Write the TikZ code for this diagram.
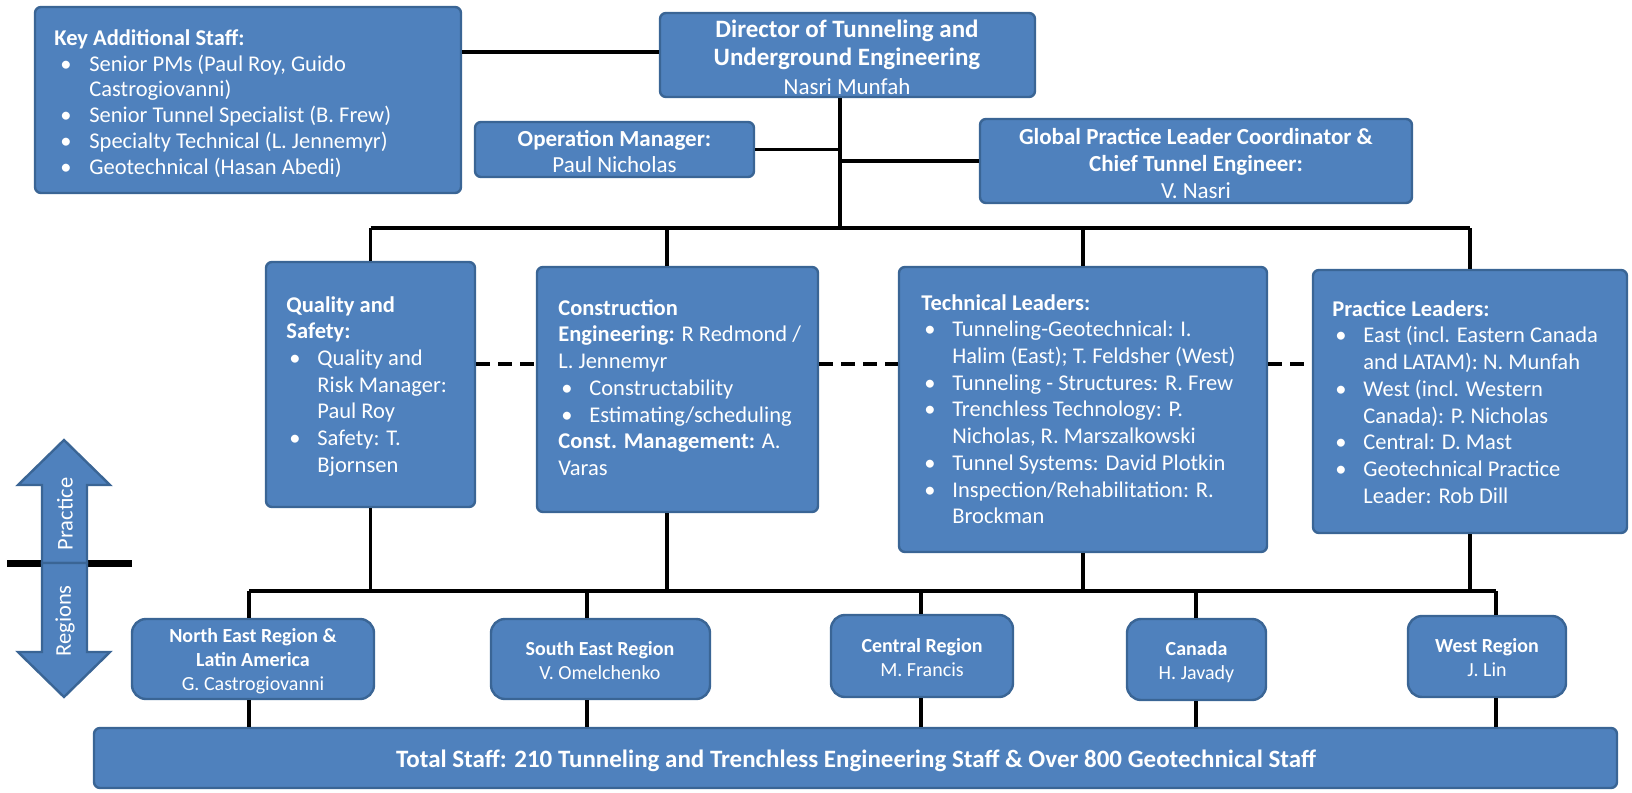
\documentclass[tikz,border=0pt]{standalone}
\usepackage{fontspec}
\setmainfont{Carlito}
\usetikzlibrary{fit}
\definecolor{boxblue}{HTML}{4F81BD}
\definecolor{boxedge}{HTML}{3A6595}
\newlength\bind
\newlength\boff
\newcommand\bitem[1]{\makebox[\bind][l]{\hspace*{\boff}\textbullet}#1}
\newcommand\cont[1]{\hspace*{\bind}#1}
\begin{document}
\begin{tikzpicture}[x=0.5pt,y=-0.5pt,
  box/.style={draw=boxedge, line width=1.2pt, fill=boxblue, rounded corners=3pt, inner sep=0pt},
  rbox/.style={box, rounded corners=7pt},
  ctext/.style={text=white, align=center, inner sep=0pt, anchor=center},
  rtext/.style={ctext, font=\fontsize{10}{12}\selectfont},
  conn/.style={line width=1.8pt, black},
  dashconn/.style={line width=2pt, black, dash pattern=on 7pt off 4pt},
  body/.style={font=\fontsize{11.25}{13.35}\selectfont, text=white, align=left, anchor=north west, inner sep=0pt,
    execute at begin node={\setlength\bind{15.5pt}\setlength\boff{1.5pt}}},
  keybody/.style={body, font=\fontsize{11.25}{12.9}\selectfont,
    execute at begin node={\setlength\bind{17.5pt}\setlength\boff{3pt}}},
  arrowshape/.style={draw=boxedge, line width=1.2pt, fill=boxblue, line join=miter}
]
\path[use as bounding box] (0,0) rectangle (1632,792);

% left double arrow
\draw[line width=3.5pt, black] (7,563) -- (132,563);
\fill[arrowshape] (64,440) -- (110,485) -- (87,485) -- (87,563) -- (42,563) -- (42,485) -- (18,485) -- cycle;
\fill[arrowshape] (42,563) -- (87,563) -- (87,652) -- (110,652) -- (64,697) -- (18,652) -- (42,652) -- cycle;
\node[rotate=90, text=white, font=\fontsize{11.25}{13}\selectfont] (ptxt) at (65,514) {Practice};
\node[rotate=90, text=white, font=\fontsize{11.25}{13}\selectfont] (rtxt) at (65,621) {Regions};

% top level boxes
\node[box, fit={(35,7) (461,193)}] (key) {};
\node[keybody] (keyt) at (54,29) {\textbf{Key Additional Staff:}\\
  \bitem{Senior PMs (Paul Roy, Guido}\\
  \cont{Castrogiovanni)}\\
  \bitem{Senior Tunnel Specialist (B. Frew)}\\
  \bitem{Specialty Technical (L. Jennemyr)}\\
  \bitem{Geotechnical (Hasan Abedi)}};

\node[box, fit={(660,13) (1035,97)}] (dir) {};
\node[ctext, font=\fontsize{12.5}{14.25}\selectfont] (dirt) at (847,57)
  {\textbf{Director of Tunneling and}\\ \textbf{Underground Engineering}\\ {\fontsize{11.5}{14.25}\selectfont Nasri Munfah}};
\node[box, fit={(475,122) (754,177)}] (om) {};
\node[ctext, font=\fontsize{11.5}{13}\selectfont] (omt) at (614.5,151)
  {\textbf{Operation Manager:}\\ Paul Nicholas};
\node[box, fit={(980,119) (1412,203)}] (gp) {};
\node[ctext, font=\fontsize{11.5}{13.5}\selectfont] (gpt) at (1196,164)
  {\textbf{Global Practice Leader Coordinator \&}\\ \textbf{Chief Tunnel Engineer:}\\ V. Nasri};

% second level
\node[box, fit={(266,262) (475,507)}] (qs) {};
\node[body] (qst) at (286,296) {\textbf{Quality and}\\
  \textbf{Safety:}\\
  \bitem{Quality and}\\
  \cont{Risk Manager:}\\
  \cont{Paul Roy}\\
  \bitem{Safety: T.}\\
  \cont{Bjornsen}};

\node[box, fit={(537,267) (818,512)}] (cons) {};
\node[body] (const) at (558,299) {\textbf{Construction}\\
  \textbf{Engineering:} R Redmond /\\
  L. Jennemyr\\
  \bitem{Constructability}\\
  \bitem{Estimating/scheduling}\\
  \textbf{Const. Management:} A.\\
  Varas};

\node[box, fit={(899,267) (1267,552)}] (tl) {};
\node[body] (tlt) at (921,294) {\textbf{Technical Leaders:}\\
  \bitem{Tunneling-Geotechnical: I.}\\
  \cont{Halim (East); T. Feldsher (West)}\\
  \bitem{Tunneling - Structures: R. Frew}\\
  \bitem{Trenchless Technology: P.}\\
  \cont{Nicholas, R. Marszalkowski}\\
  \bitem{Tunnel Systems: David Plotkin}\\
  \bitem{Inspection/Rehabilitation: R.}\\
  \cont{Brockman}};

\node[box, fit={(1313,270) (1627,533)}] (pl) {};
\node[body] (plt) at (1332,300) {\textbf{Practice Leaders:}\\
  \bitem{East (incl. Eastern Canada}\\
  \cont{and LATAM): N. Munfah}\\
  \bitem{West (incl. Western}\\
  \cont{Canada): P. Nicholas}\\
  \bitem{Central: D. Mast}\\
  \bitem{Geotechnical Practice}\\
  \cont{Leader: Rob Dill}};

% regions
\node[rbox, fit={(132,619) (374,699)}] (ne) {};
\node[rtext] (net) at (253,661) {\textbf{North East Region \&}\\ \textbf{Latin America}\\ G. Castrogiovanni};
\node[rbox, fit={(491,619) (710,699)}] (se) {};
\node[rtext] (set) at (600,661) {\textbf{South East Region}\\ V. Omelchenko};
\node[rbox, fit={(831,615) (1013,697)}] (ce) {};
\node[rtext] (cet) at (922,658) {\textbf{Central Region}\\ M. Francis};
\node[rbox, fit={(1127,619) (1266,700)}] (ca) {};
\node[rtext] (cat) at (1196.5,662) {\textbf{Canada}\\ H. Javady};
\node[rbox, fit={(1408,616) (1566,697)}] (we) {};
\node[rtext] (wet) at (1487,658) {\textbf{West Region}\\ J. Lin};

\node[box, fit={(94,728) (1617,788)}] (tot) {};
\node[ctext, font=\fontsize{12.5}{14}\selectfont\bfseries] (tott) at (856,761)
  {Total Staff: 210 Tunneling and Trenchless Engineering Staff \& Over 800 Geotechnical Staff};

% helper coordinates
\coordinate (ykd) at (0,52);
\coordinate (yb1) at (0,228);
\coordinate (yb2) at (0,591);
\coordinate (ydash) at (0,364);
\coordinate (xtr) at (840,0);
\coordinate (xc) at (667,0);
\coordinate (xne) at (249,0);
\coordinate (xse) at (587,0);
\coordinate (xce) at (921,0);
\coordinate (xca) at (1196,0);
\coordinate (xwe) at (1496,0);

% connectors top
\draw[conn] (key.east |- ykd) -- (dir.west |- ykd);
\draw[conn] (xtr |- dir.south) -- (xtr |- yb1);
\draw[conn] (om.east) -- (xtr |- om.east);
\draw[conn] (xtr |- gp.west) -- (gp.west);
\draw[conn] (qs.north |- yb1) -- (pl.north |- yb1);
\draw[conn] (qs.north |- yb1) -- (qs.north);
\draw[conn] (xc |- yb1) -- (xc |- cons.north);
\draw[conn] (tl.north |- yb1) -- (tl.north);
\draw[conn] (pl.north |- yb1) -- (pl.north);

% dashed links
\draw[dashconn] (qs.east |- ydash) -- (cons.west |- ydash);
\draw[dashconn] (cons.east |- ydash) -- (tl.west |- ydash);
\draw[dashconn] (tl.east |- ydash) -- (pl.west |- ydash);

% down to regions bus
\draw[conn] (qs.south) -- (qs.south |- yb2);
\draw[conn] (xc |- cons.south) -- (xc |- yb2);
\draw[conn] (tl.south) -- (tl.south |- yb2);
\draw[conn] (pl.south) -- (pl.south |- yb2);
\draw[conn] (xne |- yb2) -- (xwe |- yb2);

% region stubs
\draw[conn] (xne |- yb2) -- (xne |- ne.north);
\draw[conn] (xse |- yb2) -- (xse |- se.north);
\draw[conn] (xce |- yb2) -- (xce |- ce.north);
\draw[conn] (xca |- yb2) -- (xca |- ca.north);
\draw[conn] (xwe |- yb2) -- (xwe |- we.north);
\draw[conn] (xne |- ne.south) -- (xne |- tot.north);
\draw[conn] (xse |- se.south) -- (xse |- tot.north);
\draw[conn] (xce |- ce.south) -- (xce |- tot.north);
\draw[conn] (xca |- ca.south) -- (xca |- tot.north);
\draw[conn] (xwe |- we.south) -- (xwe |- tot.north);
\end{tikzpicture}
\end{document}
